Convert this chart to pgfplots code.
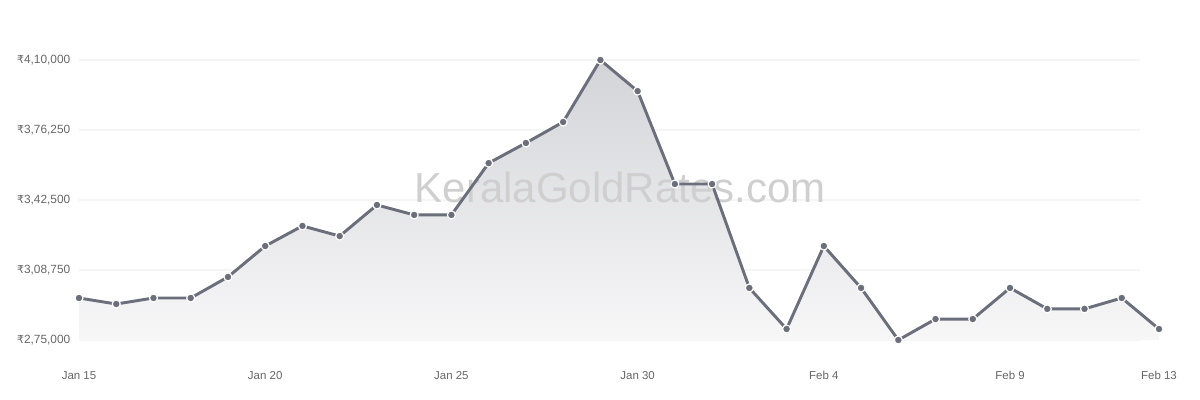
\documentclass[border=0pt]{standalone}
\usepackage{pgfplots}
\usepackage{pgfplotstable}
\pgfplotsset{compat=1.18}
\usepackage{fontspec}
\setmainfont{Liberation Sans}
\newfontfamily\rupeefont{DejaVu Sans}
\newcommand{\rs}{{\rupeefont\fontsize{8.2pt}{10pt}\selectfont ₹}}
\definecolor{linec}{HTML}{6B6E7B}
\definecolor{tickc}{HTML}{666666}
\definecolor{gridc}{HTML}{F5F5F6}
\definecolor{filltop}{HTML}{D3D4D8}
\definecolor{fillbot}{HTML}{F7F7F8}
\definecolor{wmark}{HTML}{CFCFCF}

% price per day, Jan 15 = 0 ... Feb 13 = 29
\pgfplotstableread{
x y
0 295250
1 292350
2 295250
3 295250
4 305400
5 320300
6 330000
7 325100
8 340100
9 335300
10 335300
11 360300
12 370000
13 380100
14 410000
15 395000
16 350200
17 350200
18 300100
19 280300
20 320300
21 300100
22 275000
23 285100
24 285100
25 300100
26 290000
27 290000
28 295250
29 280300
}\goldtable

\begin{document}
\begin{tikzpicture}
\useasboundingbox (0,0) rectangle (900pt,300pt);
\begin{axis}[
    at={(59.25pt,45pt)}, anchor=south west,
    scale only axis,
    width=810pt, height=210pt,
    xmin=0, xmax=29,
    ymin=275000, ymax=410000,
    axis line style={draw=none},
    tick style={draw=none},
    xtick={0,5,10,15,20,25,29},
    xticklabels={Jan 15,Jan 20,Jan 25,Jan 30,Feb 4,Feb 9,Feb 13},
    scaled y ticks=false,
    ytick={275000,308750,342500,376250,410000},
    yticklabels={{\rs2,75,000},{\rs3,08,750},{\rs3,42,500},{\rs3,76,250},{\rs4,10,000}},
    ticklabel style={font=\fontsize{8.9pt}{10pt}\selectfont, text=tickc},
    xticklabel style={font=\fontsize{8.6pt}{10pt}\selectfont, yshift=-20pt},
    yticklabel style={xshift=-3pt},
    clip=false,
]
% grid lines stop short of the last day, as in the original
\foreach \g in {275000,308750,342500,376250,410000}{
  \edef\tmp{\noexpand\draw[gridc, line width=0.9pt] (axis cs:0,\g) -- (axis cs:28.49,\g);}
  \tmp
}
\addplot[draw=none, top color=filltop, bottom color=fillbot] table[x=x,y=y] {\goldtable} \closedcycle;
\node[text=wmark, font=\fontsize{31.5pt}{36pt}\selectfont] at (rel axis cs:0.501,0.546) {KeralaGoldRates.com};
\addplot[linec, line width=2.2pt, line join=round, mark=*,
    mark options={fill=linec, draw=white, line width=0.9pt, scale=1.0}, mark size=3pt]
    table[x=x,y=y] {\goldtable};
\end{axis}
\end{tikzpicture}
\end{document}
